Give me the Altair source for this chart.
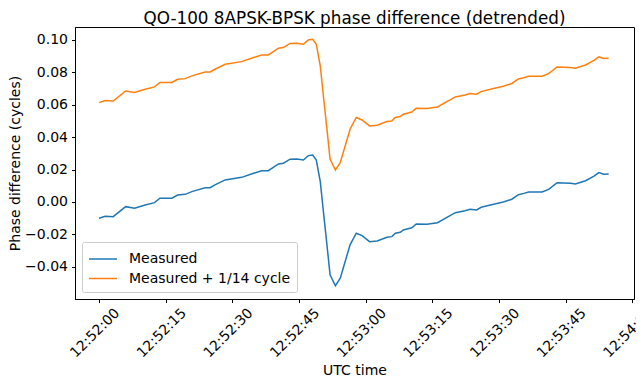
import altair as alt
import pandas as pd

# seconds after 12:52:00 UTC
seconds = [0.0, 1.4, 3.2, 6.0, 8.0, 10.4, 12.5, 13.7, 16.4, 17.7, 19.4, 20.9, 23.9, 25.0,
           26.1, 28.4, 32.1, 34.8, 36.6, 38.1, 40.4, 41.5, 43.0, 44.5, 46.0, 47.1, 48.1,
           48.9, 49.8, 50.5, 51.3, 52.0, 53.2, 54.3, 55.4, 56.5, 57.9, 59.2, 60.9, 62.6,
           64.8, 65.9, 66.7, 67.8, 68.5, 70.4, 71.4, 73.8, 76.2, 78.3, 80.2, 82.4, 83.5,
           85.0, 86.0, 88.8, 91.0, 92.9, 94.4, 95.6, 96.7, 99.7, 101.2, 103.1, 106.1,
           107.2, 109.5, 111.4, 112.5, 113.6, 114.7]
measured = [-0.0101, -0.0088, -0.0091, -0.0029, -0.0039, -0.0019, -0.0004, 0.0023, 0.0023,
            0.0043, 0.0047, 0.0064, 0.0088, 0.0088, 0.0105, 0.0136, 0.0152, 0.0177, 0.0193,
            0.0193, 0.0235, 0.0239, 0.0264, 0.0265, 0.0259, 0.0286, 0.0290, 0.0259, 0.0125,
            -0.0060, -0.0265, -0.0450, -0.0517, -0.0471, -0.0368, -0.0265, -0.0193, -0.0208,
            -0.0245, -0.0241, -0.0218, -0.0214, -0.0193, -0.0187, -0.0173, -0.0159, -0.0136,
            -0.0138, -0.0128, -0.0095, -0.0066, -0.0054, -0.0045, -0.0049, -0.0033, -0.0014,
            0.0000, 0.0017, 0.0045, 0.0053, 0.0062, 0.0062, 0.0078, 0.0119, 0.0115, 0.0111,
            0.0131, 0.0160, 0.0181, 0.0171, 0.0173]
offset = 1 / 14
series_names = ["Measured", "Measured + 1/14 cycle"]
series_colors = ["#1f77b4", "#ff7f0e"]
tick_seconds = [0, 15, 30, 45, 60, 75, 90, 105, 120]
y_ticks = [-0.04, -0.02, 0.0, 0.02, 0.04, 0.06, 0.08, 0.10]

base_ms = int(pd.Timestamp("2023-01-01 12:52:00", tz="UTC").value // 10**6)

rows = []
for s, v in zip(seconds, measured):
    rows.append({"t": base_ms + s * 1000, "v": v, "series": series_names[0], "o": 0})
    rows.append({"t": base_ms + s * 1000, "v": v + offset, "series": series_names[1], "o": 1})
df = pd.DataFrame(rows)

chart = alt.Chart(df).mark_line(strokeWidth=1.5).encode(
    x=alt.X("t:T",
            scale=alt.Scale(type="utc", domain=[base_ms - 5400, base_ms + 120400], nice=False),
            axis=alt.Axis(values=[base_ms + s * 1000 for s in tick_seconds], format="%H:%M:%S",
                          labelAngle=-45, labelAlign="right", labelBaseline="middle",
                          labelOffset=18, labelPadding=8, title="UTC time", titlePadding=4,
                          grid=False)),
    y=alt.Y("v:Q",
            scale=alt.Scale(domain=[-0.0599, 0.108], nice=False, zero=False),
            axis=alt.Axis(values=y_ticks, format=".2f", title="Phase difference (cycles)",
                          grid=False, labelPadding=4, titlePadding=2)),
    color=alt.Color("series:N",
                    scale=alt.Scale(domain=series_names, range=series_colors),
                    legend=alt.Legend(title=None, orient="bottom-left", offset=7,
                                      symbolType="M-1.4,0H1.4", symbolSize=400,
                                      symbolStrokeWidth=1.5, symbolOffset=4,
                                      labelFontSize=14, labelOffset=15, rowPadding=1.5,
                                      labelLimit=400,
                                      padding=6, strokeColor="#cccccc", fillColor="white",
                                      cornerRadius=2, labelColor="black")),
    order="o:Q",
    detail="series:N",
).properties(
    width=559, height=272,
    title=alt.Title("QO-100 8APSK-BPSK phase difference (detrended)", fontSize=16.8,
                    fontWeight="normal", color="black", offset=-1),
    autosize="none",
    padding={"left": 67, "top": 19, "right": 2, "bottom": 86},
).configure(
    font="DejaVu Sans",
).configure_view(
    stroke="black", strokeWidth=1,
).configure_axis(
    labelFontSize=14, titleFontSize=14, labelColor="black", titleColor="black",
    titleFontWeight="normal", domainColor="black", tickColor="black", tickSize=3.5,
    domainWidth=1, tickWidth=1, labelFont="DejaVu Sans", titleFont="DejaVu Sans",
).configure_legend(
    labelFont="DejaVu Sans",
)

chart.save("out.html", embed_options={"renderer": "svg", "actions": False})
